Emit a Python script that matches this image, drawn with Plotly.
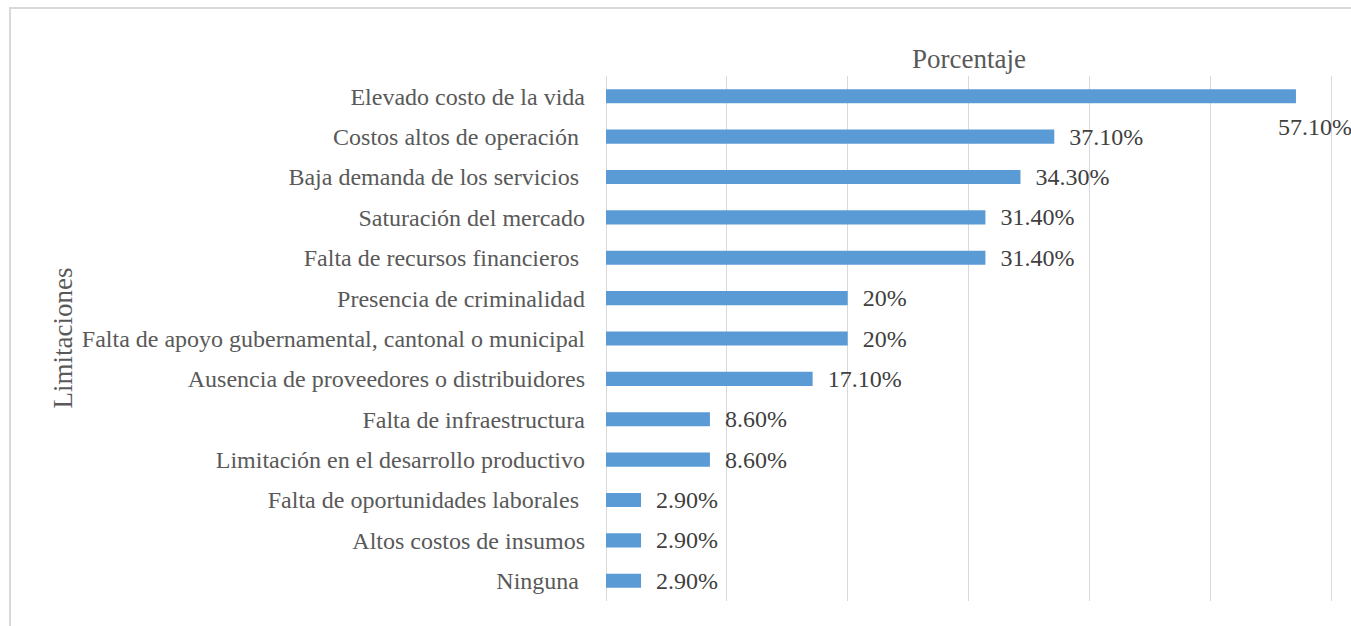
import plotly.graph_objects as go

categories = [
    "Elevado costo de la vida",
    "Costos altos de operación ",
    "Baja demanda de los servicios ",
    "Saturación del mercado",
    "Falta de recursos financieros ",
    "Presencia de criminalidad",
    "Falta de apoyo gubernamental, cantonal o municipal",
    "Ausencia de proveedores o distribuidores",
    "Falta de infraestructura",
    "Limitación en el desarrollo productivo",
    "Falta de oportunidades laborales ",
    "Altos costos de insumos",
    "Ninguna ",
]
values = [0.571, 0.371, 0.343, 0.314, 0.314, 0.20, 0.20, 0.171, 0.086, 0.086, 0.029, 0.029, 0.029]
labels = ["57.10%", "37.10%", "34.30%", "31.40%", "31.40%", "20%", "20%",
          "17.10%", "8.60%", "8.60%", "2.90%", "2.90%", "2.90%"]

W, H = 1351, 626
ML, MR, MT, MB = 606, 18, 76, 25
pw, ph = W - ML - MR, H - MT - MB
XMAX = 0.6 * pw / 725.0  # keep 0.6 at pixel 1331 so its gridline is drawn

FONT = "Liberation Serif, Times New Roman, serif"
FS = 24
FS_TITLE = 27

bar_text = [""] + labels[1:]

fig = go.Figure()
fig.add_trace(go.Bar(
    x=values, y=categories, orientation="h",
    marker=dict(color="#5b9bd5", line=dict(width=0)),
    text=bar_text, texttemplate="\u00a0\u00a0%{text}", textposition="outside",
    constraintext="none",
    textfont=dict(family=FONT, size=FS, color="#404040"),
    cliponaxis=False, hoverinfo="x+y",
))

# label of the longest bar sits below its end
fig.add_annotation(
    x=values[0], y=categories[0], xref="x", yref="y",
    text=labels[0], showarrow=False, xanchor="center", yanchor="middle",
    xshift=19, yshift=-31,
    font=dict(family=FONT, size=FS, color="#404040"),
)

fig.add_annotation(
    x=0.3, y=1, xref="x", yref="paper", text="Porcentaje",
    showarrow=False, xanchor="center", yanchor="bottom", yshift=0,
    font=dict(family=FONT, size=FS_TITLE, color="#595959"),
)
fig.add_annotation(
    x=(62 - ML) / pw, y=0.5, xref="paper", yref="paper", text="Limitaciones",
    showarrow=False, textangle=-90, xanchor="center", yanchor="middle",
    font=dict(family=FONT, size=FS_TITLE, color="#595959"),
)

fig.add_shape(
    type="rect", xref="paper", yref="paper",
    x0=(10 - ML) / pw, x1=(W + 10 - ML) / pw,
    y0=(MT + ph - (H + 10)) / ph, y1=(MT + ph - 8) / ph,
    line=dict(color="#d9d9d9", width=2), fillcolor="rgba(0,0,0,0)", layer="below",
)

fig.update_layout(
    width=W, height=H,
    margin=dict(l=ML, r=MR, t=MT, b=MB, autoexpand=False),
    paper_bgcolor="white", plot_bgcolor="white",
    bargap=0.65, showlegend=False,
    xaxis=dict(range=[0, XMAX], tick0=0, dtick=0.1, showticklabels=False,
               showgrid=True, gridcolor="#d9d9d9", gridwidth=1,
               zeroline=True, zerolinecolor="#d9d9d9", zerolinewidth=1,
               showline=False, ticks="", fixedrange=True),
    yaxis=dict(range=[len(categories) - 0.5, -0.5], autorange=False,
               showgrid=False, showline=False, ticks="",
               ticklabelstandoff=20,
               tickfont=dict(family=FONT, size=FS, color="#595959"), fixedrange=True),
)

fig.write_html("out.html", config={"displayModeBar": False},
               post_script="document.body.style.margin='0';document.body.style.overflow='hidden';")
